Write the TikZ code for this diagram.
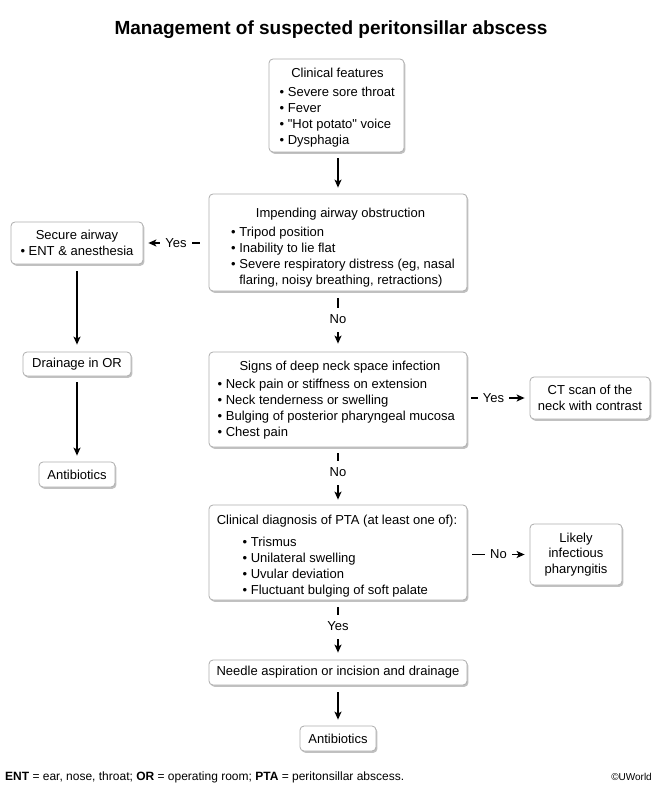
\documentclass[tikz,border=0pt]{standalone}
\usepackage{fontspec}
\setmainfont{Liberation Sans}[Ligatures=TeXOff]
\usetikzlibrary{shadows,arrows.meta,calc}
\tikzset{
  box/.style={draw=black!32, line width=0.8pt, rounded corners=4pt, fill=white,
    drop shadow={shadow xshift=1.4pt, shadow yshift=-1.8pt, opacity=0.35, fill=black!70},
    inner sep=0pt, align=center, font=\fontsize{13}{15.5}\selectfont},
  txt/.style={inner sep=0pt, font=\fontsize{13}{16}\selectfont},
  conn/.style={line width=1.2pt, -{Stealth[length=8pt,width=7pt,inset=2pt]}},
  lbl/.style={fill=white, inner xsep=5pt, inner ysep=0pt, text height=9.5pt, text depth=2.5pt,
    minimum height=24pt, font=\fontsize{13}{16}\selectfont},
  hlbl/.style={fill=white, inner xsep=5pt, inner ysep=2pt, font=\fontsize{13}{16}\selectfont}
}
\begin{document}
\begin{tikzpicture}[x=1pt,y=-1pt]
\useasboundingbox (0,0) rectangle (661,786);
% title
\node[anchor=base, inner sep=0pt, font=\bfseries\fontsize{19}{23}\selectfont] (title) at (331,35) {Management of suspected peritonsillar abscess};
% main column boxes
\node[box, minimum width=135pt, minimum height=93pt] (b1) at (336.5,105.5) {};
\node[txt, anchor=base] (b1t) at (337.5,77.5) {Clinical features};
\node[txt, anchor=base west] (b1l) at (279.5,96.5) {\begin{tabular}[t]{@{}l@{}}• Severe sore throat\\ • Fever\\ • "Hot potato" voice\\ • Dysphagia\end{tabular}};

\node[box, minimum width=258pt, minimum height=97pt] (b2) at (338,242.5) {};
\node[txt, anchor=base] (b2t) at (340.5,217.5) {Impending airway obstruction};
\node[txt, anchor=base west] (b2l) at (231,236.5) {\begin{tabular}[t]{@{}l@{}}• Tripod position\\ • Inability to lie flat\\ • Severe respiratory distress (eg, nasal\\ \phantom{• }flaring, noisy breathing, retractions)\end{tabular}};

\node[box, minimum width=258pt, minimum height=95pt] (b3) at (338,399.5) {};
\node[txt, anchor=base] (b3t) at (340,370.5) {Signs of deep neck space infection};
\node[txt, anchor=base west] (b3l) at (217.5,388) {\begin{tabular}[t]{@{}l@{}}• Neck pain or stiffness on extension\\ • Neck tenderness or swelling\\ • Bulging of posterior pharyngeal mucosa\\ • Chest pain\end{tabular}};

\node[box, minimum width=258pt, minimum height=95pt] (b4) at (338,552.5) {};
\node[txt, anchor=base] (b4t) at (337,524.5) {Clinical diagnosis of PTA (at least one of):};
\node[txt, anchor=base west] (b4l) at (242.5,546) {\begin{tabular}[t]{@{}l@{}}• Trismus\\ • Unilateral swelling\\ • Uvular deviation\\ • Fluctuant bulging of soft palate\end{tabular}};

\node[box, minimum width=258pt, minimum height=25pt] (b5) at (338,672.5) {Needle aspiration or incision and drainage};
\node[box, minimum width=76pt, minimum height=25pt] (b6) at (338,738.5) {Antibiotics};

% left column
\node[box, minimum width=132pt, minimum height=42pt] (sa) at (77,243) {Secure airway\\ • ENT \& anesthesia};
\node[box, minimum width=108pt, minimum height=24pt] (dr) at (77,364) {Drainage in OR};
\node[box, minimum width=76pt, minimum height=25pt] (ab) at (77,474.5) {Antibiotics};

% right column
\node[box, minimum width=120pt, minimum height=42pt] (ct) at (590,398) {CT scan of the\\ neck with contrast};
\node[box, minimum width=92pt, minimum height=61pt] (lk) at (576,554.5) {Likely\\ infectious\\ pharyngitis};

% connectors
\draw[conn, shorten <=6pt, shorten >=6pt] (b1.south -| b2.north) -- (b2.north);
\draw[conn, shorten <=7pt, shorten >=8pt] (b2.south) -- node[lbl, pos=0.48] (l1) {No} (b3.north);
\draw[conn, shorten <=6pt, shorten >=5pt] (b3.south) -- node[lbl, pos=0.45] (l2) {No} (b4.north);
\draw[conn, shorten <=7pt, shorten >=7pt] (b4.south) -- node[lbl, pos=0.45] (l3) {Yes} (b5.north);
\draw[conn, shorten <=7pt, shorten >=6pt] (b5.south) -- (b6.north);

\draw[conn, shorten <=9pt, shorten >=5pt] (b2.west |- sa.east) -- node[hlbl] (l4) {Yes} (sa.east);
\draw[conn, shorten <=7pt, shorten >=7pt] (sa.south) -- (dr.north);
\draw[conn, shorten <=6pt, shorten >=6pt] (dr.south) -- (ab.north);

\draw[conn, shorten <=4pt, shorten >=5pt] (b3.east |- ct.west) -- node[hlbl, pos=0.42] (l5) {Yes} (ct.west);
\draw[conn, shorten <=5pt, shorten >=5pt] (b4.east |- lk.west) -- node[hlbl] (l6) {No} (lk.west);

% footer
\node[anchor=base west, inner sep=0pt, font=\fontsize{12}{14}\selectfont] (foot) at (5,780) {\textbf{ENT} = ear, nose, throat; \textbf{OR} = operating room; \textbf{PTA} = peritonsillar abscess.};
\node[anchor=base east, inner sep=0pt, font=\fontsize{10}{12}\selectfont] (copy) at (652,780) {©UWorld};
\end{tikzpicture}
\end{document}
